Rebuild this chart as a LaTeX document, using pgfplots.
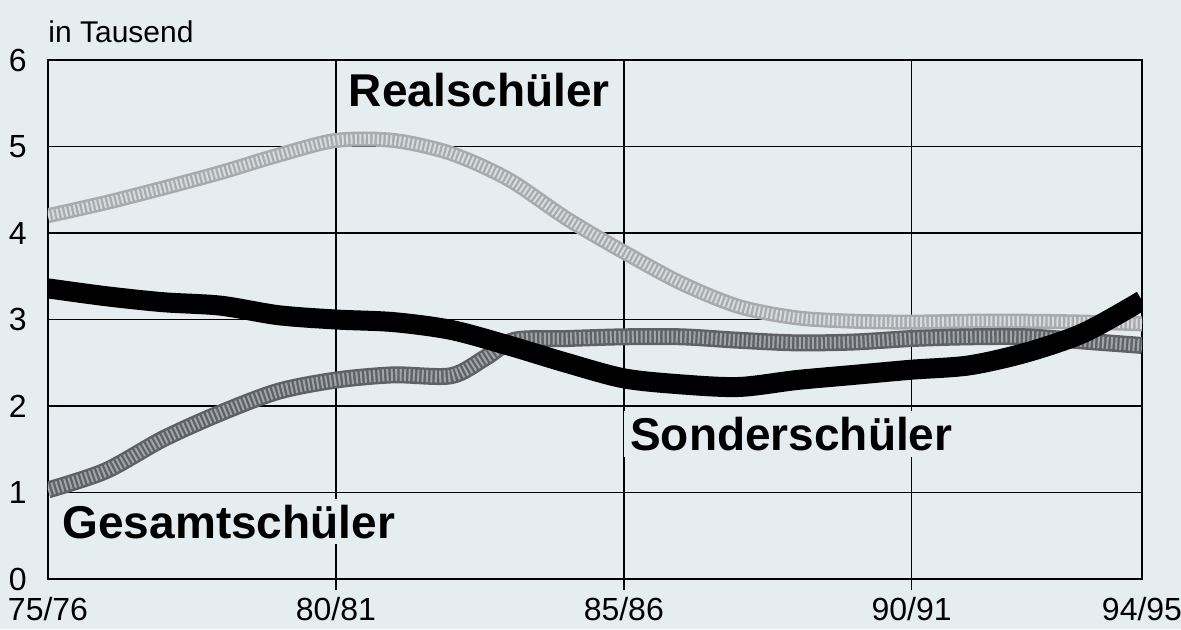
\documentclass[border=0pt]{standalone}
\usepackage{pgfplots}
\pgfplotsset{compat=1.18}
\usepackage{pgfplotstable}
\usepackage{fontspec}
\setmainfont{Liberation Sans}
\definecolor{bg}{RGB}{230,237,240}
\definecolor{realc}{RGB}{168,170,174}
\definecolor{realt}{RGB}{215,220,223}
\definecolor{gesc}{RGB}{95,97,102}
\definecolor{gest}{RGB}{160,165,170}

\pgfplotstableread{
x y
0 4.20
1 4.35
2 4.52
3 4.70
4 4.90
5 5.07
6 5.07
7 4.92
8 4.62
9 4.17
10 3.78
11 3.42
12 3.15
13 3.02
14 2.98
15 2.97
16 2.98
17 2.98
18 2.97
19 2.95
}\real

\pgfplotstableread{
x y
0 1.03
1 1.25
2 1.62
3 1.92
4 2.17
5 2.30
6 2.36
7 2.35
7.6 2.56
8.1 2.76
9 2.78
10 2.80
11 2.80
12 2.76
13 2.73
14 2.74
15 2.78
16 2.80
17 2.80
18 2.75
19 2.70
}\gesamt

\pgfplotstableread{
x y
0 3.36
1 3.27
2 3.20
3 3.16
4 3.05
5 3.00
6 2.97
7 2.88
8 2.70
9 2.50
10 2.32
11 2.25
12 2.22
13 2.30
14 2.36
15 2.42
16 2.47
17 2.62
18 2.85
19 3.22
}\sonder

\begin{document}
\begin{tikzpicture}
\path[use as bounding box, fill=bg] (-24pt,-25pt) rectangle (566.5pt,289.5pt);
\begin{axis}[
  at={(0,0)}, anchor=south west,
  scale only axis, width=547pt, height=259.5pt,
  xmin=0, xmax=19, ymin=0, ymax=6,
  xtick={5,10,15},
  xticklabels={80/81,85/86,90/91},
  extra x ticks={0,19},
  extra x tick labels={75/76,94/95},
  extra x tick style={major tick length=0pt, xticklabel style={yshift=-5.5pt}},
  ytick={0,1,2,3,4,5,6},
  grid=major,
  major grid style={black, line width=0.8pt},
  axis line style={black, line width=1.3pt},
  tick label style={font=\fontsize{16}{18}\selectfont},
  /pgf/number format/assume math mode=true,
  ytick style={draw=none},
  xtick style={black, line width=0.8pt},
  xtick pos=lower,
  tick align=outside,
  major tick length=5.5pt,
  xticklabel style={inner sep=0pt, yshift=-3.5pt},
  yticklabel style={inner sep=0pt, xshift=-5pt},
  clip mode=individual,
]
\addplot[realc, line width=7.5pt, smooth, tension=0.5] table[x=x,y=y] {\real};
\addplot[realt, line width=5pt, smooth, tension=0.5, dash pattern=on 1pt off 1.2pt] table[x=x,y=y] {\real};
\addplot[gesc, line width=8.5pt, smooth, tension=0.5] table[x=x,y=y] {\gesamt};
\addplot[gest, line width=6pt, smooth, tension=0.5, dash pattern=on 1pt off 1.2pt] table[x=x,y=y] {\gesamt};
\addplot[black, line width=10pt, smooth, tension=0.5] table[x=x,y=y] {\sonder};
\node[anchor=base, fill=bg, inner sep=3pt, font=\fontsize{23}{26}\selectfont\bfseries] at (axis cs:7.49,5.457) {Realschüler};
\node[anchor=base, fill=bg, inner sep=3pt, font=\fontsize{23}{26}\selectfont\bfseries] at (axis cs:12.91,1.49) {Sonderschüler};
\node[anchor=base, fill=bg, inner sep=3pt, font=\fontsize{23}{26}\selectfont\bfseries] at (axis cs:3.14,0.474) {Gesamtschüler};
\node[anchor=base west, inner sep=0pt, font=\fontsize{15}{17}\selectfont] at (axis cs:0,6.197) {in Tausend};
\end{axis}
\end{tikzpicture}
\end{document}
